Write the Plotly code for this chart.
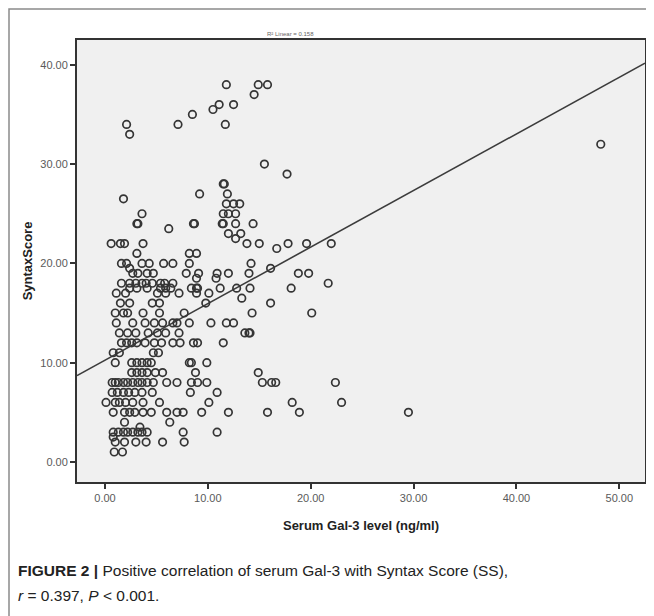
import plotly.graph_objects as go

# ---- data: (SyntaxScore row -> serum Gal-3 values) ----
rows = {
    38: [11.8, 14.9, 15.8],
    37: [14.5],
    36: [11.1, 12.5],
    35.5: [10.5],
    35: [8.5],
    34: [2.1, 7.1, 11.7],
    33: [2.4],
    32: [48.2],
    30: [15.5],
    29: [17.7],
    28: [11.5, 11.6],
    27: [9.2, 11.9],
    26.5: [1.8],
    26: [11.8, 12.5, 13.1],
    25: [3.6, 11.5, 12.0, 12.7],
    24: [3.1, 3.2, 8.6, 8.7, 11.4, 11.5, 12.7, 14.4],
    23.5: [6.2],
    23: [12.0, 13.2],
    22.5: [12.7],
    22: [0.6, 1.5, 1.9, 3.7, 13.8, 15.0, 17.8, 19.6, 22.0],
    21.5: [16.7],
    21: [3.1, 8.2, 8.9],
    20: [1.6, 2.1, 3.6, 4.3, 5.7, 6.6, 8.2, 14.2],
    19.5: [2.4, 16.1],
    19: [2.7, 3.2, 4.1, 4.7, 7.9, 9.1, 10.9, 12.0, 14.0, 18.8, 19.8],
    18.5: [8.9, 10.8],
    18: [1.6, 2.4, 3.0, 3.6, 4.0, 4.6, 5.4, 5.8, 6.6, 21.7],
    17.5: [2.4, 3.1, 4.1, 5.4, 5.9, 6.4, 8.4, 8.9, 9.0, 11.2, 12.8, 14.1, 18.1],
    17: [1.1, 2.0, 5.1, 5.9, 7.2, 8.9, 10.1],
    16.5: [13.3],
    16: [1.5, 2.4, 4.6, 5.3, 9.8, 16.1],
    15: [1.0, 1.8, 2.2, 3.7, 5.3, 7.7, 14.3, 20.1],
    14: [1.1, 2.7, 3.9, 4.8, 5.6, 6.6, 7.0, 8.2, 10.3, 11.8, 12.5],
    13: [1.4, 2.2, 3.0, 4.2, 5.1, 5.9, 7.2, 13.6, 14.0, 14.1],
    12: [1.6, 2.1, 2.6, 3.1, 3.9, 4.8, 5.5, 6.6, 7.3, 8.6, 9.0, 11.5],
    11: [0.8, 1.4, 4.7, 5.2],
    10: [1.0, 2.6, 3.1, 3.6, 4.1, 4.5, 8.2, 8.4, 9.9],
    9: [2.6, 3.1, 3.6, 4.1, 4.9, 5.6, 8.8, 14.9],
    8: [0.7, 1.0, 1.3, 1.8, 2.2, 2.7, 3.2, 3.6, 4.1, 4.7, 6.0, 7.0, 8.4, 9.0, 9.9,
        15.3, 16.2, 16.6, 22.4],
    7: [0.7, 1.2, 1.8, 2.3, 2.9, 3.6, 4.6, 8.3, 10.9],
    6: [0.1, 1.0, 1.4, 2.0, 2.7, 3.7, 5.3, 10.1, 18.2, 23.0],
    5: [0.8, 1.9, 2.4, 2.9, 3.7, 4.5, 6.0, 7.0, 7.6, 9.4, 12.0, 15.8, 18.9, 29.5],
    4: [1.9, 6.3],
    3.5: [3.4],
    3: [0.8, 1.3, 1.8, 2.2, 2.7, 3.2, 3.6, 4.1, 7.6, 10.9],
    2.5: [0.8],
    2: [1.0, 1.9, 3.0, 4.0, 5.6, 7.7],
    1: [0.9, 1.7],
}
gal3 = [x for y, xs in rows.items() for x in xs]
syntax = [y for y, xs in rows.items() for _ in xs]

# fit line
fit_intercept = 10.24
fit_slope = 0.57
x_range = [-2.72, 52.5]
y_range = [-2.02, 42.5]

x_ticks = [0, 10, 20, 30, 40, 50]
y_ticks = [0, 10, 20, 30, 40]

fig = go.Figure()
fig.add_trace(go.Scatter(
    x=x_range, y=[fit_intercept + fit_slope * v for v in x_range],
    mode="lines", line=dict(color="#3c3c3c", width=1.6),
    hoverinfo="skip", showlegend=False, cliponaxis=True))
fig.add_trace(go.Scatter(
    x=gal3, y=syntax, mode="markers",
    marker=dict(symbol="circle-open", size=7.5, color="#353535",
                line=dict(width=1.7, color="#353535")),
    showlegend=False))

# page is rendered with an 8px body margin; positions below are page pixels
OFF = 8
W, H = 654, 616
L = 77 - OFF
T = 40 - OFF
R = W - (645 - OFF)
B = H - (482 - OFF)
pw, ph = W - L - R, H - T - B

def px(x):
    return (x - OFF - L) / pw

def py(y):
    return (H - B - (y - OFF)) / ph

axis_common = dict(showgrid=False, zeroline=False, showline=True, mirror=True,
                   linecolor="#333333", linewidth=2, ticks="outside", ticklen=5,
                   tickwidth=1.5, tickcolor="#333333",
                   tickfont=dict(family="Liberation Sans, Arial", size=11, color="#5a5a5a"),
                   tickformat=".2f")

fig.update_layout(
    width=W, height=H,
    margin=dict(l=L, r=R, t=T, b=B, autoexpand=False),
    paper_bgcolor="white", plot_bgcolor="#f0f0f0",
    xaxis=dict(range=x_range, tickvals=x_ticks, **axis_common,
               title=dict(text="<b>Serum Gal-3 level (ng/ml)</b>", standoff=18,
                          font=dict(family="Liberation Sans, Arial", size=13, color="#222222"))),
    yaxis=dict(range=y_range, tickvals=y_ticks, **axis_common,
               title=dict(text="<b>SyntaxScore</b>", standoff=5,
                          font=dict(family="Liberation Sans, Arial", size=13, color="#222222"))),
    shapes=[dict(type="rect", xref="paper", yref="paper",
                 x0=px(9), x1=px(650), y0=py(660), y1=py(9),
                 line=dict(color="#8a8a8a", width=1.5), layer="below")],
    annotations=[
        dict(text="R² Linear = 0.158", xref="paper", yref="paper",
             x=px(290), y=py(29), showarrow=False,
             font=dict(family="Liberation Sans, Arial", size=6, color="#666666")),
        dict(text="<b>FIGURE 2 |</b> Positive correlation of serum Gal-3 with Syntax Score (SS),",
             xref="paper", yref="paper", x=px(16), y=py(570), xanchor="left",
             yanchor="middle", showarrow=False,
             font=dict(family="Liberation Sans, Arial", size=15.5, color="#222222")),
        dict(text="<i>r</i> = 0.397, <i>P</i> < 0.001.",
             xref="paper", yref="paper", x=px(16), y=py(595), xanchor="left",
             yanchor="middle", showarrow=False,
             font=dict(family="Liberation Sans, Arial", size=15.5, color="#222222")),
    ],
)

fig.write_html("out.html")
